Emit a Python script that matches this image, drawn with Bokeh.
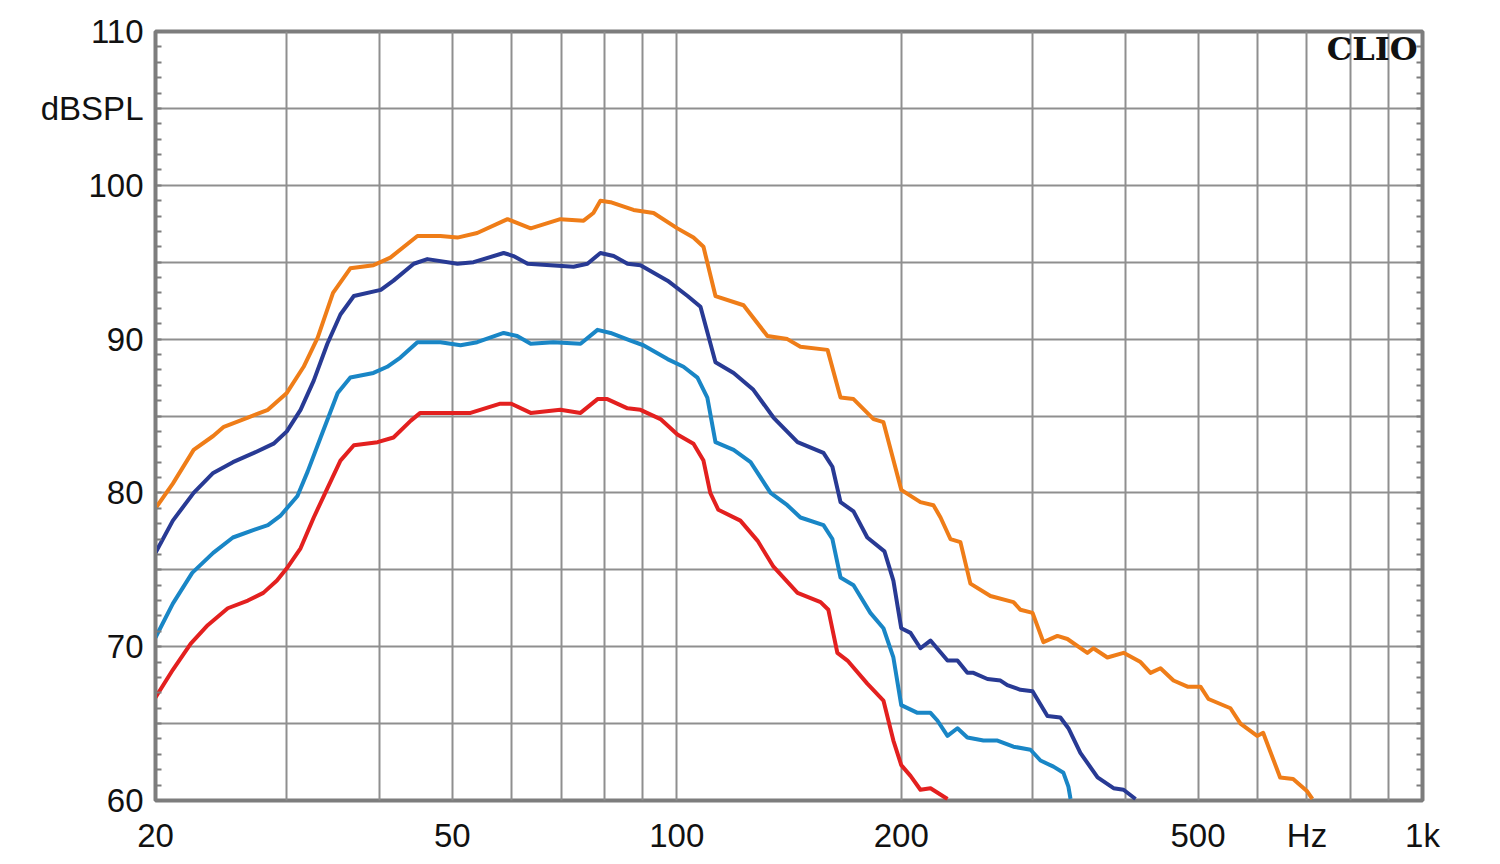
from bokeh.plotting import figure
from bokeh.models import Range1d, FixedTicker, LinearAxis, Label
from bokeh.embed import file_html
from bokeh.resources import INLINE

# ---------------- data (frequency in Hz, level in dB SPL) ----------------
freq_orange = [20.0, 21.1, 22.5, 23.9, 24.7, 26.6, 28.3, 30.0, 31.6, 33.0,
               34.6, 36.5, 39.2, 41.3, 44.9, 48.2, 50.8, 54.0, 59.3, 63.7,
               69.8, 75.0, 77.3, 79.0, 81.5, 87.5, 93.1, 100.2, 105.3, 108.6,
               112.7, 122.9, 132.3, 140.7, 146.5, 159.3, 165.8, 172.6, 183.6, 189.3,
               200.0, 212.2, 220.9, 225.8, 232.8, 240.1, 247.6, 263.4, 282.8, 289.0,
               300.0, 310.2, 323.9, 334.1, 355.3, 362.0, 378.0, 397.3, 418.7, 431.8,
               445.3, 463.5, 484.0, 503.8, 516.4, 552.7, 570.0, 600.2, 611.4, 644.3,
               670.7, 700.4, 711.8]
db_orange = [79.0, 80.6, 82.8, 83.7, 84.3, 84.9, 85.4, 86.5, 88.2, 90.1,
             93.0, 94.6, 94.8, 95.3, 96.7, 96.7, 96.6, 96.9, 97.8, 97.2,
             97.8, 97.7, 98.2, 99.0, 98.9, 98.4, 98.2, 97.2, 96.6, 96.0,
             92.8, 92.2, 90.2, 90.0, 89.5, 89.3, 86.2, 86.1, 84.8, 84.6,
             80.2, 79.4, 79.2, 78.4, 77.0, 76.8, 74.1, 73.3, 72.9, 72.4,
             72.2, 70.3, 70.7, 70.5, 69.6, 69.9, 69.3, 69.6, 69.0, 68.3,
             68.6, 67.8, 67.4, 67.4, 66.6, 66.0, 65.0, 64.2, 64.4, 61.5,
             61.4, 60.6, 60.1]

freq_darkblue = [20.0, 21.1, 22.5, 23.9, 25.4, 27.1, 28.8, 30.0, 31.3, 32.6,
                 34.0, 35.4, 36.9, 40.1, 41.7, 44.4, 46.3, 50.8, 53.4, 58.6,
                 60.4, 63.1, 72.7, 75.9, 79.0, 82.3, 85.9, 89.4, 97.2, 103.4,
                 107.6, 112.7, 119.2, 126.7, 134.8, 145.2, 157.3, 161.7, 165.8, 172.6,
                 180.1, 189.9, 195.2, 200.0, 205.8, 212.2, 218.9, 230.7, 237.9, 245.3,
                 249.9, 261.0, 271.7, 277.5, 289.0, 300.0, 314.1, 326.9, 335.1, 347.7,
                 366.7, 385.2, 397.3, 412.3]
db_darkblue = [76.1, 78.2, 80.0, 81.3, 82.0, 82.6, 83.2, 84.0, 85.4, 87.3,
               89.7, 91.6, 92.8, 93.2, 93.8, 94.9, 95.2, 94.9, 95.0, 95.6,
               95.4, 94.9, 94.7, 94.9, 95.6, 95.4, 94.9, 94.8, 93.8, 92.8,
               92.1, 88.5, 87.8, 86.7, 84.9, 83.3, 82.6, 81.7, 79.4, 78.8,
               77.1, 76.2, 74.3, 71.2, 70.9, 69.9, 70.4, 69.1, 69.1, 68.3,
               68.3, 67.9, 67.8, 67.5, 67.2, 67.1, 65.5, 65.4, 64.7, 63.1,
               61.5, 60.8, 60.7, 60.1]

freq_lightblue = [20.0, 21.1, 22.4, 23.9, 25.4, 27.1, 28.3, 29.4, 31.0, 32.0,
                  33.3, 35.1, 36.5, 39.2, 40.9, 42.6, 44.9, 48.2, 51.3, 54.0,
                  58.6, 61.1, 63.7, 68.3, 74.3, 78.3, 81.5, 86.7, 90.2, 97.2,
                  102.1, 106.6, 109.9, 112.7, 119.2, 125.6, 133.6, 140.7, 146.5, 157.3,
                  161.7, 165.8, 172.6, 181.8, 189.3, 195.2, 200.0, 210.3, 218.9, 223.6,
                  230.7, 237.9, 245.3, 257.8, 269.2, 282.8, 298.1, 307.4, 320.0, 330.0,
                  335.1, 337.3]
db_lightblue = [70.6, 72.8, 74.8, 76.1, 77.1, 77.6, 77.9, 78.5, 79.8, 81.4,
                83.6, 86.5, 87.5, 87.8, 88.2, 88.8, 89.8, 89.8, 89.6, 89.8,
                90.4, 90.2, 89.7, 89.8, 89.7, 90.6, 90.4, 89.9, 89.6, 88.7,
                88.2, 87.5, 86.2, 83.3, 82.8, 82.0, 80.0, 79.2, 78.4, 77.9,
                77.0, 74.5, 74.0, 72.2, 71.2, 69.3, 66.2, 65.7, 65.7, 65.2,
                64.2, 64.7, 64.1, 63.9, 63.9, 63.5, 63.3, 62.6, 62.2, 61.8,
                60.9, 60.1]

freq_red = [20.0, 21.1, 22.3, 23.5, 25.0, 26.6, 27.9, 29.1, 30.0, 31.3,
            32.6, 34.0, 35.4, 36.9, 39.7, 41.7, 44.0, 45.3, 49.7, 52.9,
            58.0, 60.0, 63.7, 69.8, 74.3, 78.3, 80.7, 85.9, 89.4, 95.1,
            100.2, 105.3, 108.6, 110.9, 113.7, 121.7, 128.3, 134.8, 145.2, 155.9,
            159.7, 164.2, 169.4, 180.1, 189.3, 195.2, 200.0, 205.8, 212.2, 218.9,
            230.7]
db_red = [66.7, 68.5, 70.2, 71.4, 72.5, 73.0, 73.5, 74.3, 75.1, 76.4,
          78.4, 80.3, 82.1, 83.1, 83.3, 83.6, 84.7, 85.2, 85.2, 85.2,
          85.8, 85.8, 85.2, 85.4, 85.2, 86.1, 86.1, 85.5, 85.4, 84.8,
          83.8, 83.2, 82.1, 80.0, 78.9, 78.2, 76.9, 75.2, 73.5, 72.9,
          72.4, 69.6, 69.1, 67.6, 66.5, 63.9, 62.3, 61.6, 60.7, 60.8,
          60.1]

x_ticks = [20, 50, 100, 200, 500, 700, 1000]
x_tick_labels = {20: "20", 50: "50", 100: "100", 200: "200", 500: "500", 700: "Hz", 1000: "1k"}
x_grid = [20, 30, 40, 50, 60, 70, 80, 90, 100, 200, 300, 400, 500, 600, 700, 800, 900, 1000]
y_ticks = [60, 70, 80, 90, 100, 105, 110]
y_tick_labels = {60: "60", 70: "70", 80: "80", 90: "90", 100: "100", 105: "dBSPL", 110: "110"}
y_grid = [60, 65, 70, 75, 80, 85, 90, 95, 100, 105, 110]
y_minor = list(range(60, 111))

# ---------------- figure ----------------
GRID = "#8f8f8f"
FRAME = "#7d7d7d"
FONT = "Liberation Sans"

p = figure(width=1500, height=864, x_axis_type="log",
           x_range=Range1d(20, 1000), y_range=Range1d(60, 110),
           output_backend="svg", toolbar_location=None,
           min_border_left=155, min_border_right=78,
           min_border_top=31, min_border_bottom=64)
p.background_fill_color = "white"
p.border_fill_color = "white"
p.outline_line_color = FRAME
p.outline_line_width = 4

# grids
p.xgrid.ticker = FixedTicker(ticks=x_grid)
p.ygrid.ticker = FixedTicker(ticks=y_grid)
for g in (p.xgrid[0], p.ygrid[0]):
    g.grid_line_color = GRID
    g.grid_line_width = 2

# bottom axis
xa = p.xaxis[0]
xa.ticker = FixedTicker(ticks=x_ticks)
xa.major_label_overrides = x_tick_labels
xa.major_label_text_font = FONT
xa.major_label_text_font_size = "33px"
xa.major_label_text_color = "#111111"
xa.major_label_standoff = 16
xa.major_tick_in = 0
xa.major_tick_out = 0
xa.minor_tick_in = 0
xa.minor_tick_out = 0
xa.axis_line_color = None

# left axis
ya = p.yaxis[0]
ya.ticker = FixedTicker(ticks=y_ticks, minor_ticks=y_minor)
ya.major_label_overrides = y_tick_labels
ya.major_label_text_font = FONT
ya.major_label_text_font_size = "33px"
ya.major_label_text_color = "#111111"
ya.major_label_standoff = 12
ya.major_tick_in = 0
ya.major_tick_out = 0
ya.minor_tick_in = 6
ya.minor_tick_out = 0
ya.minor_tick_line_color = FRAME
ya.minor_tick_line_width = 2
ya.axis_line_color = FRAME
ya.axis_line_width = 3

# right axis (minor ticks only)
ra = LinearAxis(ticker=FixedTicker(ticks=[], minor_ticks=y_minor))
ra.major_tick_in = 0
ra.major_tick_out = 0
ra.minor_tick_in = 6
ra.minor_tick_out = 0
ra.minor_tick_line_color = FRAME
ra.minor_tick_line_width = 2
ra.axis_line_color = FRAME
ra.axis_line_width = 3
ra.major_label_text_font_size = "0px"
p.add_layout(ra, "right")

# curves
series = [
    (freq_orange, db_orange, "#ef7d18"),
    (freq_darkblue, db_darkblue, "#283a94"),
    (freq_lightblue, db_lightblue, "#1986c6"),
    (freq_red, db_red, "#e3201f"),
]
for fx, fy, col in series:
    p.line(fx, fy, line_color=col, line_width=4, line_join="round")

# CLIO logo text
p.add_layout(Label(x=1000, y=108.85, x_offset=-5, text="CLIO",
                   text_align="right", text_baseline="alphabetic",
                   text_font="DejaVu Serif", text_font_style="bold",
                   text_font_size="32px", text_color="#111111"))

open("out.html", "w").write(file_html(p, INLINE))
